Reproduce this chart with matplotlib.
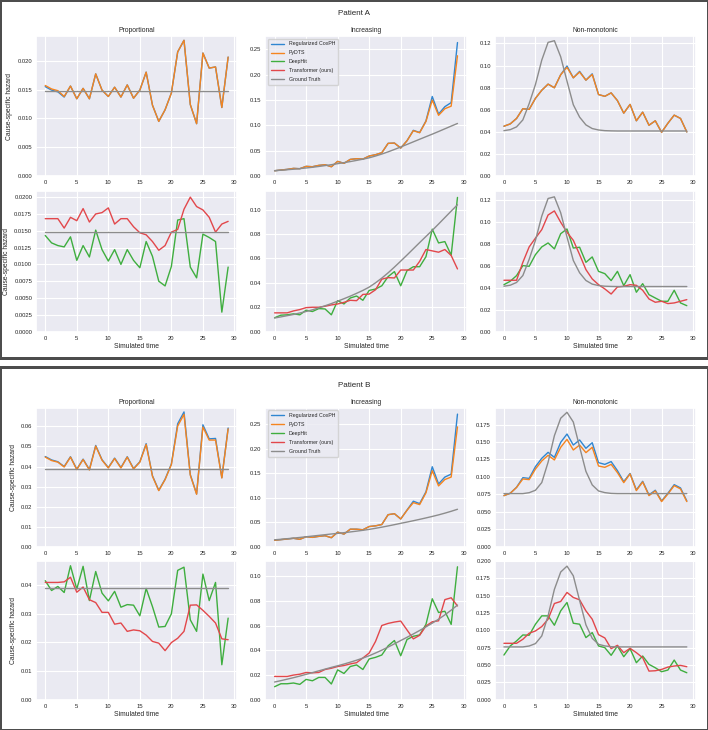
import numpy as np
import matplotlib
matplotlib.use("Agg")
import matplotlib.pyplot as plt
import seaborn as sns
from matplotlib.lines import Line2D

sns.set_theme(style="darkgrid")
plt.rcParams['font.family'] = ['Liberation Sans', 'DejaVu Sans']

time = list(range(30))

# ---------------- Patient A ----------------
a_prop_cox = [.0155, .0149, .0146, .0137, .0156, .0134, .0152, .0134, .0177, .0149, .0138, .0154, .0137, .0158, .0135,
              .0149, .0180, .0123, .0095, .0115, .0144, .0215, .0235, .0124, .0091, .0213, .0187, .0189, .0119, .0206]
a_prop_pydts = [.0157, .0151, .0148, .0138, .0156, .0134, .0152, .0134, .0177, .0149, .0138, .0154, .0137, .0158, .0135,
                .0149, .0180, .0123, .0095, .0115, .0144, .0215, .0235, .0124, .0091, .0213, .0187, .0189, .0119, .0206]
a_prop_deephit = [.0143, .0132, .0128, .0126, .0141, .0106, .0128, .0111, .0151, .0122, .0105, .0122, .0100, .0122, .0106,
                  .0095, .0134, .0112, .0075, .0068, .0097, .0166, .0168, .0096, .0080, .0145, .0140, .0134, .0029, .0096]
a_prop_transformer = [.0168, .0168, .0168, .0154, .0170, .0165, .0183, .0163, .0175, .0177, .0184, .0160, .0168, .0168, .0156,
                      .0147, .0144, .0134, .0121, .0128, .0148, .0152, .0182, .0200, .0186, .0181, .0170, .0148, .0160, .0164]
a_prop_gt = [0.0148] * 30

a_inc_cox = [.0111, .0125, .0138, .0157, .0151, .0197, .0190, .0216, .0229, .0190, .0295, .0256, .0334, .0347, .0340,
             .0400, .0426, .0465, .0649, .0655, .0557, .0702, .0905, .0862, .1090, .1570, .1225, .1370, .1450, .2630]
a_inc_pydts = [.0111, .0125, .0138, .0157, .0151, .0197, .0190, .0216, .0229, .0190, .0295, .0256, .0334, .0347, .0340,
               .0400, .0426, .0465, .0649, .0655, .0557, .0700, .0898, .0858, .1080, .1500, .1200, .1330, .1380, .2370]
a_inc_deephit = [.0114, .0135, .0138, .0146, .0138, .0176, .0165, .0189, .0186, .0138, .0254, .0227, .0276, .0292, .0257,
                 .0338, .0349, .0376, .0451, .0492, .0376, .0500, .0532, .0532, .0614, .0840, .0727, .0738, .0627, .1100]
a_inc_transformer = [.0154, .0154, .0154, .0170, .0181, .0197, .0200, .0200, .0208, .0219, .0227, .0240, .0257, .0254, .0305,
                     .0308, .0343, .0430, .0443, .0440, .0505, .0505, .0505, .0576, .0673, .0662, .0651, .0673, .0624, .0514]
a_inc_gt = [.0112, .0121, .0131, .0141, .0153, .0165, .0179, .0195, .0212, .0230, .0250, .0270, .0291, .0314, .0338,
            .0365, .0400, .0439, .0482, .0529, .0578, .0628, .0679, .0730, .0780, .0830, .0882, .0935, .0988, .1040]

a_nm_cox = [.0453, .0474, .0523, .0611, .0605, .0705, .0778, .0833, .0800, .0918, .0997, .0890, .0948, .0869, .0926,
            .0739, .0723, .0754, .0684, .0571, .0650, .0502, .0580, .0462, .0502, .0398, .0480, .0553, .0523, .0401]
a_nm_pydts = [.0453, .0474, .0523, .0611, .0605, .0705, .0778, .0833, .0800, .0918, .0985, .0890, .0942, .0869, .0920,
              .0739, .0723, .0754, .0684, .0571, .0650, .0502, .0580, .0462, .0502, .0398, .0480, .0553, .0523, .0401]
a_nm_deephit = [.0427, .0458, .0509, .0600, .0594, .0700, .0770, .0806, .0752, .0890, .0933, .0760, .0767, .0630, .0679,
                .0548, .0527, .0464, .0548, .0418, .0518, .0358, .0436, .0336, .0306, .0276, .0276, .0376, .0261, .0236]
a_nm_transformer = [.0467, .0467, .0467, .0630, .0770, .0850, .0927, .1060, .1097, .0994, .0903, .0830, .0700, .0564, .0479,
                    .0427, .0388, .0342, .0406, .0412, .0427, .0421, .0376, .0297, .0267, .0276, .0255, .0261, .0276, .0291]
a_nm_gt = [.0413, .0422, .0447, .0510, .0657, .0830, .1050, .1210, .1225, .1080, .0860, .0647, .0535, .0465, .0432,
           .0419, .0413, .0411, .0410, .0410, .0410, .0410, .0410, .0410, .0410, .0410, .0410, .0410, .0410, .0410]

# ---------------- Patient B ----------------
b_prop_cox = [.0450, .0433, .0424, .0400, .0449, .0387, .0437, .0385, .0505, .0434, .0395, .0442, .0395, .0449, .0390,
              .0424, .0514, .0354, .0282, .0337, .0413, .0613, .0672, .0360, .0264, .0608, .0538, .0540, .0345, .0592]
b_prop_pydts = [.0447, .0430, .0422, .0398, .0447, .0385, .0435, .0383, .0502, .0432, .0393, .0440, .0393, .0447, .0388,
                .0422, .0510, .0352, .0280, .0335, .0410, .0602, .0660, .0357, .0262, .0597, .0532, .0532, .0343, .0588]
b_prop_deephit = [.0414, .0380, .0394, .0373, .0466, .0385, .0464, .0345, .0446, .0371, .0344, .0377, .0322, .0331, .0329,
                  .0292, .0387, .0324, .0253, .0255, .0299, .0450, .0461, .0278, .0238, .0437, .0345, .0408, .0122, .0284]
b_prop_transformer = [.0408, .0408, .0408, .0410, .0426, .0374, .0392, .0348, .0338, .0304, .0304, .0263, .0267, .0238, .0243,
                      .0240, .0225, .0203, .0197, .0171, .0199, .0214, .0238, .0329, .0330, .0311, .0290, .0267, .0212, .0209]
b_prop_gt = [0.0388] * 30

b_inc_cox = [.0134, .0147, .0160, .0174, .0154, .0207, .0194, .0214, .0227, .0187, .0300, .0260, .0360, .0360, .0348,
             .0414, .0428, .0455, .0655, .0675, .0568, .0749, .0929, .0880, .1120, .1630, .1280, .1420, .1480, .2700]
b_inc_pydts = [.0134, .0147, .0160, .0174, .0154, .0207, .0194, .0214, .0227, .0187, .0300, .0260, .0360, .0360, .0348,
               .0414, .0428, .0455, .0655, .0675, .0568, .0745, .0900, .0860, .1100, .1550, .1240, .1370, .1420, .2440]
b_inc_deephit = [.0106, .0130, .0130, .0136, .0125, .0165, .0154, .0181, .0181, .0128, .0242, .0213, .0269, .0282, .0245,
                 .0330, .0343, .0362, .0436, .0479, .0356, .0487, .0513, .0524, .0609, .0816, .0705, .0715, .0609, .1074]
b_inc_transformer = [.0189, .0189, .0189, .0200, .0207, .0221, .0218, .0221, .0245, .0255, .0269, .0277, .0290, .0300, .0338,
                     .0378, .0471, .0600, .0617, .0628, .0636, .0564, .0492, .0521, .0596, .0630, .0638, .0809, .0824, .0758]
b_inc_gt = [.0144, .0155, .0167, .0179, .0192, .0206, .0220, .0234, .0248, .0262, .0275, .0289, .0304, .0320, .0337,
            .0356, .0378, .0401, .0426, .0452, .0479, .0505, .0532, .0560, .0589, .0619, .0651, .0686, .0724, .0765]

b_nm_cox = [.0733, .0767, .0852, .0990, .0980, .1148, .1267, .1352, .1280, .1495, .1614, .1457, .1529, .1410, .1490,
            .1205, .1180, .1220, .1090, .0933, .1050, .0814, .0938, .0743, .0810, .0657, .0767, .0890, .0843, .0657]
b_nm_pydts = [.0733, .0767, .0850, .0971, .0962, .1114, .1229, .1310, .1243, .1424, .1538, .1386, .1457, .1348, .1424,
              .1157, .1138, .1180, .1062, .0919, .1043, .0805, .0929, .0733, .0800, .0648, .0757, .0876, .0829, .0648]
b_nm_deephit = [.0645, .0776, .0848, .0934, .0930, .1089, .1209, .1209, .1074, .1281, .1402, .1103, .1089, .0896, .0968,
                .0776, .0751, .0641, .0776, .0621, .0737, .0535, .0631, .0511, .0462, .0405, .0429, .0573, .0429, .0390]
b_nm_transformer = [.0814, .0814, .0814, .0872, .0959, .0992, .1055, .1161, .1387, .1416, .1546, .1474, .1440, .1281, .1161,
                    .0939, .0891, .0737, .0785, .0679, .0742, .0679, .0607, .0414, .0419, .0438, .0472, .0487, .0496, .0477]
b_nm_gt = [.0762, .0762, .0762, .0762, .0775, .0810, .0920, .1210, .1590, .1840, .1925, .1786, .1430, .1080, .0886,
           .0800, .0776, .0765, .0762, .0762, .0762, .0762, .0762, .0762, .0762, .0762, .0762, .0762, .0762, .0762]

scenarios = ["Proportional", "Increasing", "Non-monotonic"]
model_names = ["Regularized CoxPH", "PyDTS", "DeepHit", "Transformer (ours)", "Ground Truth"]

patients = {
    "Patient A": {
        "Proportional": (a_prop_cox, a_prop_pydts, a_prop_deephit, a_prop_transformer, a_prop_gt),
        "Increasing": (a_inc_cox, a_inc_pydts, a_inc_deephit, a_inc_transformer, a_inc_gt),
        "Non-monotonic": (a_nm_cox, a_nm_pydts, a_nm_deephit, a_nm_transformer, a_nm_gt),
    },
    "Patient B": {
        "Proportional": (b_prop_cox, b_prop_pydts, b_prop_deephit, b_prop_transformer, b_prop_gt),
        "Increasing": (b_inc_cox, b_inc_pydts, b_inc_deephit, b_inc_transformer, b_inc_gt),
        "Non-monotonic": (b_nm_cox, b_nm_pydts, b_nm_deephit, b_nm_transformer, b_nm_gt),
    },
}

c_cox = '#2f86d1'
c_pydts = '#f5841f'
c_deephit = '#3fae3f'
c_trans = '#e2474b'
c_gt = '#8c8c8c'
colors = [c_cox, c_pydts, c_deephit, c_trans, c_gt]
LW = 1.0

TICK_FS = 4.2
LABEL_FS = 4.9
TITLE_FS = 4.9
SUP_FS = 5.8
LEG_FS = 3.8

fig = plt.figure(figsize=(7.08, 7.30), dpi=100)
subfigs = fig.subfigures(2, 1, hspace=0.025, height_ratios=[0.985, 1.0],
                         edgecolor='#4d4d4d', linewidth=2.0)

layouts = {
    "Patient A": dict(left=0.051, right=0.983, top=0.899, bottom=0.073, wspace=0.14, hspace=0.107, ty=0.962),
    "Patient B": dict(left=0.051, right=0.983, top=0.887, bottom=0.083, wspace=0.14, hspace=0.100, ty=0.948),
}

for sf, (pname, pdata) in zip(subfigs, patients.items()):
    lay = layouts[pname]
    axs = sf.subplots(2, 3)
    sf.subplots_adjust(left=lay['left'], right=lay['right'], top=lay['top'], bottom=lay['bottom'],
                       wspace=lay['wspace'], hspace=lay['hspace'])
    sf.suptitle(pname, fontsize=SUP_FS, y=lay['ty'], va='center')
    for j, scen in enumerate(scenarios):
        cox, pyd, dh, tr, gt = pdata[scen]
        ax = axs[0, j]
        ax.plot(time, cox, color=c_cox, lw=LW)
        ax.plot(time, pyd, color=c_pydts, lw=LW)
        ax.plot(time, gt, color=c_gt, lw=LW)
        ax.set_title(scen, fontsize=TITLE_FS, pad=3)
        ax = axs[1, j]
        ax.plot(time, dh, color=c_deephit, lw=LW)
        ax.plot(time, tr, color=c_trans, lw=LW)
        ax.plot(time, gt, color=c_gt, lw=LW)
        ax.set_xlabel("Simulated time", fontsize=LABEL_FS, labelpad=1.5)
        for ax in axs[:, j]:
            ax.set_ylim(bottom=0)
            ax.set_xticks([0, 5, 10, 15, 20, 25, 30])
            ax.tick_params(labelsize=TICK_FS, pad=2.8, length=0)
            for gl in ax.get_xgridlines() + ax.get_ygridlines():
                gl.set_linewidth(0.8)
    for ax in axs[:, 0]:
        ax.set_ylabel("Cause-specific hazard", fontsize=LABEL_FS, labelpad=3)
    handles = [Line2D([], [], color=c, lw=1.0) for c in colors]
    axs[0, 1].legend(handles, model_names, loc='upper left', fontsize=LEG_FS, frameon=True,
                     handlelength=2.6, borderpad=0.5, labelspacing=0.75, handletextpad=0.8)

fig.savefig("out.png", dpi=100)
